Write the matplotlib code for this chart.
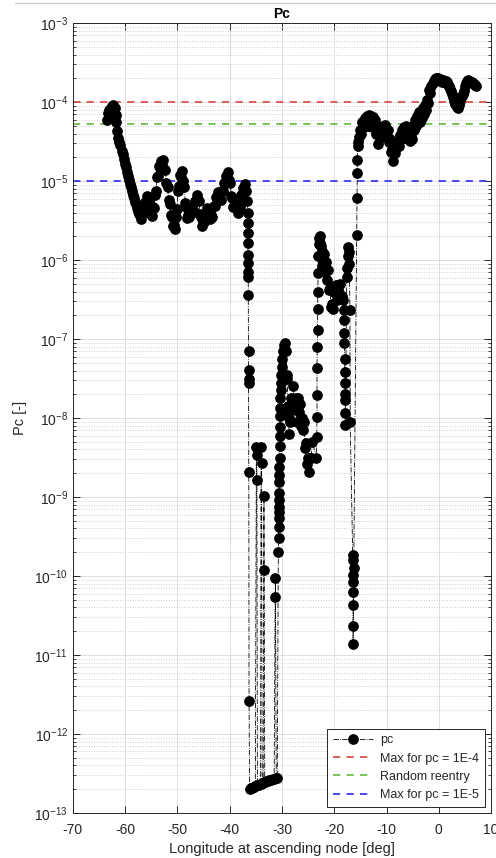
import numpy as np
import matplotlib
matplotlib.use('Agg')
import matplotlib.pyplot as plt
from matplotlib.ticker import LogLocator, LogFormatterSciNotation, NullFormatter

plt.rcParams['font.family'] = ['Liberation Sans', 'DejaVu Sans']
plt.rcParams['mathtext.fontset'] = 'custom'
plt.rcParams['mathtext.rm'] = 'Liberation Sans'
plt.rcParams['mathtext.it'] = 'Liberation Sans:italic'
plt.rcParams['mathtext.bf'] = 'Liberation Sans:bold'
plt.rcParams['axes.unicode_minus'] = False

# longitude at ascending node [deg] and log10(Pc), in trace order
# smooth part, west side
lon_west = [-63.4, -63.2, -63.0, -62.8, -62.6, -62.4, -62.2, -62.0, -61.8, -61.7,
            -61.5, -61.3, -61.1, -60.9, -60.7, -60.5, -60.3, -60.1, -59.9, -59.7,
            -59.5, -59.3, -59.1, -58.9, -58.7, -58.5, -58.3, -58.1, -57.9, -57.7,
            -57.5, -57.3, -57.1, -56.9, -56.7, -56.5, -56.3, -56.1, -55.9, -55.7,
            -55.5, -55.3, -55.1, -54.9, -54.7, -54.5, -54.3, -54.1, -53.9, -53.7,
            -53.5, -53.3, -53.1, -52.9, -52.7, -52.5, -52.3, -52.1, -51.9, -51.7,
            -51.5, -51.3, -51.1, -50.9, -50.7, -50.5, -50.3, -50.1, -49.9, -49.7,
            -49.5, -49.3, -49.1, -48.9, -48.7, -48.5, -48.3, -48.1, -47.9, -47.7,
            -47.5, -47.3, -47.1, -46.9, -46.7, -46.5, -46.3, -46.1, -45.9, -45.7,
            -45.5, -45.3, -45.1, -44.9, -44.7, -44.5, -44.3, -44.1, -43.9, -43.7,
            -43.5, -43.3, -43.1, -42.9, -42.7, -42.5, -42.3, -42.1, -41.9, -41.7,
            -41.5, -41.3, -41.1, -40.9, -40.7, -40.5, -40.3, -40.1, -39.9, -39.7,
            -39.5, -39.3, -39.1, -38.9, -38.7, -38.5, -38.3, -38.1, -37.9, -37.7,
            -37.5, -37.3, -37.1, -36.9, -36.7]
lpc_west = [-4.22, -4.14, -4.10, -4.07, -4.05, -4.04, -4.06, -4.08, -4.16, -4.25,
            -4.36, -4.45, -4.50, -4.54, -4.62, -4.66, -4.72, -4.78, -4.82, -4.88,
            -4.93, -4.99, -5.04, -5.07, -5.12, -5.17, -5.21, -5.26, -5.29, -5.34,
            -5.38, -5.42,
            -5.40, -5.48, -5.38, -5.40, -5.27, -5.30, -5.19, -5.28, -5.27, -5.40,
            -5.36, -5.44, -5.33, -5.34, -5.17, -5.12, -4.95, -4.94, -4.81, -4.84,
            -4.74, -4.80, -4.73, -4.85, -4.86, -5.02, -5.07, -5.24, -5.29, -5.43,
            -5.46, -5.57, -5.55, -5.60, -5.45, -5.35, -5.12, -5.06, -4.92, -4.95,
            -4.87, -5.00, -5.07, -5.28, -5.33, -5.47, -5.43, -5.45, -5.35, -5.39,
            -5.37, -5.39, -5.25, -5.25, -5.17, -5.24, -5.25, -5.41, -5.45, -5.57,
            -5.51, -5.52, -5.41, -5.43, -5.34, -5.39, -5.38, -5.48, -5.43, -5.45,
            -5.32, -5.31, -5.20, -5.23, -5.14, -5.18, -5.15, -5.24, -5.13, -5.13,
            -5.02, -5.03, -4.93, -4.96, -4.89, -4.99, -5.02, -5.19, -5.22, -5.33,
            -5.24, -5.27, -5.27, -5.40, -5.37, -5.33, -5.17, -5.18, -5.09, -5.12,
            -5.04, -5.13, -5.25]

# first drop and the floor near 1e-13
lon_drop = [-36.5, -36.5, -36.5, -36.5, -36.5, -36.5, -36.5, -36.45, -36.45, -36.4,
            -36.4, -36.4, -36.4, -36.35, -36.3, -36.2,
            -36.0, -35.7, -35.4, -35.1, -34.9, -34.85, -34.8, -34.7, -34.4, -34.1,
            -34.0, -33.9, -33.8, -33.6, -33.45, -33.4, -33.3, -33.0, -32.7, -32.4,
            -32.1, -31.8, -31.5, -31.3, -31.25, -31.1, -30.9, -30.7]
lpc_drop = [-5.40, -5.53, -5.66, -5.78, -5.94, -6.04, -6.15, -6.22, -6.44, -7.15,
            -7.39, -7.50, -7.56, -8.68, -11.58, -12.70,
            -12.69, -12.68, -12.67, -12.66, -8.37, -8.47, -8.78, -12.65, -12.64, -12.63,
            -8.37, -8.57, -12.62, -12.62, -8.99, -9.92, -12.61, -12.60, -12.59, -12.585,
            -12.58, -12.57, -12.565, -10.27, -10.03, -12.56, -12.555, -9.70]

# middle hump around 1e-8
lon_mid = [-30.65, -30.65, -30.6, -30.6, -30.6, -30.55, -30.55, -30.5, -30.5, -30.5,
           -30.45, -30.4, -30.4, -30.4, -30.35, -30.3, -30.3, -30.25, -30.2, -30.1,
           -30.0, -29.9, -29.8, -29.6, -29.4, -29.2, -29.1, -29.0, -28.9, -28.8,
           -28.7, -28.6, -28.4, -28.2, -28.0, -27.8, -27.6, -27.4, -27.2, -27.0,
           -26.8, -26.6, -26.4, -26.2, -26.0, -25.8, -25.6, -25.4, -25.2, -25.0,
           -24.8, -24.6, -24.4, -24.2]
lpc_mid = [-9.52, -9.38, -9.27, -9.19, -9.12, -9.04, -8.95, -8.81, -8.72, -8.62,
           -8.50, -8.35, -8.23, -8.11, -7.98, -7.87, -7.75, -7.65, -7.55, -7.45,
           -7.35, -7.25, -7.15, -7.08, -7.05,
           -7.15, -7.45, -7.50, -7.85, -7.90, -8.20, -8.00, -8.05, -7.75, -7.90,
           -7.60, -7.85, -7.75, -8.05, -7.75, -7.92, -7.82, -8.10, -8.00, -8.15,
           -8.05, -8.38, -8.32, -8.58, -8.50, -8.68, -8.50, -8.50, -8.30]

# second rise, the 1e-6 bump and the second drop
lon_bump = [-23.4, -23.35, -23.3, -23.3, -23.3, -23.25, -23.2, -23.2, -23.15, -23.1,
            -23.05, -23.0, -22.9, -22.8, -22.7, -22.6, -22.5, -22.4, -22.3, -22.2,
            -22.0, -21.8, -21.6, -21.4, -21.2, -21.0, -20.8, -20.6, -20.5, -20.3,
            -20.1, -19.9, -19.7, -19.5, -19.3, -19.1, -18.9, -18.7, -18.5,
            -18.3, -18.2, -18.15, -18.1, -18.05, -18.0, -18.0, -17.95, -17.95, -17.9,
            -17.9, -17.9, -17.6, -17.5, -17.4, -17.3, -17.2, -17.1, -17.0, -16.95,
            -16.45, -16.45, -16.2, -16.4, -16.4, -16.4, -16.4, -16.4, -16.4,
            -15.7, -15.65, -15.6, -15.6, -15.55]
lpc_bump = [-8.50, -8.24, -7.99, -7.71, -7.37, -7.10, -6.89, -6.62, -6.40, -6.16,
            -5.95, -5.80,
            -5.72, -5.78, -5.70, -5.95, -5.82, -6.08, -5.88, -6.02, -5.92, -6.15,
            -6.02, -6.25, -6.12, -6.38, -6.35, -6.60, -6.55, -6.62, -6.40, -6.42,
            -6.32, -6.50, -6.35, -6.42, -6.30, -6.48, -6.45,
            -6.50, -6.63, -6.76, -6.92, -7.05, -7.25, -7.42, -7.56, -7.69, -7.77,
            -7.94, -8.09, -6.22, -6.10, -5.95, -5.84, -5.90, -6.05, -6.63, -8.05,
            -9.73, -9.80, -9.90, -9.99, -10.08, -10.20, -10.37, -10.63, -10.86,
            -5.68, -5.21, -4.90, -4.73, -4.56]

# smooth part, east side
lon_east = [-15.4, -15.2, -15.0, -14.8, -14.6, -14.4, -14.2, -14.0, -13.8, -13.6,
            -13.4, -13.2, -13.0, -12.8, -12.6, -12.4, -12.2, -12.0, -11.8, -11.6,
            -11.4, -11.2, -11.0, -10.8, -10.6, -10.4, -10.2, -10.0, -9.8, -9.6,
            -9.4, -9.2, -9.0, -8.8, -8.6, -8.4, -8.2, -8.0, -7.8, -7.6,
            -7.4, -7.2, -7.0, -6.8, -6.6, -6.4, -6.2, -6.0, -5.8, -5.6,
            -5.4, -5.2, -5.0, -4.8, -4.6, -4.4, -4.2, -4.0, -3.8, -3.6,
            -3.4, -3.2, -3.0, -2.8, -2.6, -2.4, -2.2, -2.0, -1.8, -1.6,
            -1.4, -1.2, -1.0, -0.8, -0.6, -0.4, -0.2, 0.0, 0.2, 0.4,
            0.6, 0.8, 1.0, 1.2, 1.4, 1.6, 1.8, 2.0, 2.2, 2.4,
            2.6, 2.8, 3.0, 3.2, 3.4, 3.6, 3.8, 4.0, 4.2, 4.4,
            4.6, 4.8, 5.0, 5.2, 5.4, 5.6, 5.8, 6.0, 6.2, 6.4,
            6.6, 6.8, 7.0, 7.2]
lpc_east = [-4.50, -4.44, -4.35, -4.40, -4.25, -4.32, -4.20, -4.29, -4.17, -4.30,
            -4.16, -4.25, -4.17, -4.31, -4.19, -4.27, -4.23, -4.40, -4.37, -4.53,
            -4.40, -4.45, -4.37, -4.43, -4.30, -4.38, -4.29, -4.43, -4.35, -4.51,
            -4.47, -4.63, -4.59, -4.75, -4.61, -4.65, -4.50, -4.57, -4.50, -4.55,
            -4.41, -4.47, -4.35, -4.43, -4.31, -4.45, -4.30, -4.38, -4.33, -4.49,
            -4.43, -4.47, -4.30, -4.35, -4.22, -4.30, -4.17, -4.25, -4.13, -4.25,
            -4.11, -4.20, -4.07, -4.15, -4.03, -4.10, -3.97, -4.01, -3.85, -3.89,
            -3.80, -3.76, -3.73, -3.71, -3.70, -3.69, -3.70, -3.72, -3.71, -3.73,
            -3.74, -3.72, -3.74, -3.75, -3.73, -3.75, -3.78, -3.80, -3.83, -3.86,
            -3.90, -3.94, -3.98, -4.02, -4.06, -4.08, -4.04, -3.98, -3.94, -3.92,
            -3.90, -3.86, -3.80, -3.76, -3.73, -3.72, -3.73, -3.74, -3.75, -3.74,
            -3.76, -3.77, -3.78, -3.79]

pc_max_4 = 1e-4
pc_random = 5.3e-5
pc_max_5 = 1e-5

lon = np.array(lon_west + lon_drop + lon_mid + lon_bump + lon_east)
pc = 10.0 ** np.array(lpc_west + lpc_drop + lpc_mid + lpc_bump + lpc_east)

ink = '#262626'
fig = plt.figure(figsize=(4.96, 8.58), dpi=100)
ax = fig.add_axes([0.147, 0.0525, 0.843, 0.9205])

ax.plot(lon, pc, '-.', color='black', lw=0.6, marker='o', ms=6.7,
        mfc='black', mec='black', label='pc', zorder=3)
ax.axhline(pc_max_4, ls='--', color='#d9534f', lw=1.3, dashes=(4, 3.5), label='Max for pc = 1E-4')
ax.axhline(pc_random, ls='--', color='#6dbf4b', lw=1.3, dashes=(4, 3.5), label='Random reentry')
ax.axhline(pc_max_5, ls='--', color='#3a3af0', lw=1.3, dashes=(4, 3.5), label='Max for pc = 1E-5')

ax.set_yscale('log')
ax.set_xlim(-70, 10)
ax.set_ylim(1e-13, 1e-3)
ax.set_xticks(np.arange(-70, 11, 10))
ax.set_yticks(10.0 ** np.arange(-13, -2))
ax.yaxis.set_major_formatter(LogFormatterSciNotation())
ax.yaxis.set_minor_locator(LogLocator(base=10, subs=np.arange(2, 10), numticks=200))
ax.yaxis.set_minor_formatter(NullFormatter())

ax.grid(True, which='major', color='#dedede', lw=0.7)
ax.grid(True, which='minor', axis='y', color='#cfcfcf', lw=0.7, ls=':')
ax.set_axisbelow(True)

ax.tick_params(which='both', direction='in', top=True, right=True, colors=ink,
               labelsize=10)
ax.tick_params(which='major', length=5, width=0.7)
ax.tick_params(which='minor', length=2.5, width=0.6)
ax.tick_params(axis='x', pad=7)
for s in ax.spines.values():
    s.set_color(ink)
    s.set_linewidth(0.7)

ax.set_title('Pc', fontsize=10, fontweight='bold', color='black', pad=4)
ax.set_xlabel('Longitude at ascending node [deg]', fontsize=10.5, color=ink, labelpad=4)
ax.set_ylabel('Pc [-]', fontsize=10.5, color=ink, labelpad=5)

leg = ax.legend(loc='lower right', fontsize=9, handlelength=3.2, numpoints=1,
                fancybox=False, framealpha=1, edgecolor=ink, borderaxespad=0.5,
                labelspacing=0.5, handletextpad=0.6, borderpad=0.45)
leg.get_frame().set_linewidth(0.7)
for t in leg.get_texts():
    t.set_color(ink)

fig.add_artist(plt.Line2D([0.03, 1.0], [0.9965, 0.9965], color='#cccccc', lw=1.0,
                          transform=fig.transFigure))

fig.savefig('out.png', dpi=100)
